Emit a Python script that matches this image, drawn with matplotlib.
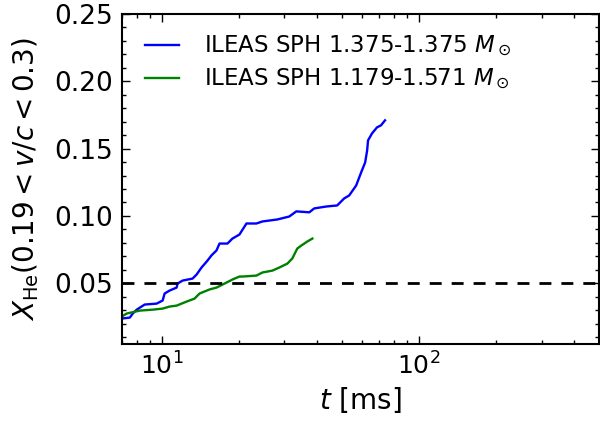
import numpy as np
import matplotlib
matplotlib.use("Agg")
import matplotlib.pyplot as plt
from matplotlib.ticker import MultipleLocator

# ILEAS SPH 1.375-1.375 Msun
t_sym = [7.00, 7.52, 7.72, 8.00, 8.59, 9.56, 10.09, 10.27, 10.74, 11.43, 11.53,
         12.06, 13.19, 13.67, 14.29, 15.08, 15.62, 16.34, 16.78, 18.02, 18.84,
         20.06, 21.36, 23.35, 24.63, 28.17, 31.34, 33.37, 37.48, 39.17, 43.60,
         48.10, 51.20, 53.54, 57.00, 59.6, 61.78, 62.9, 63.4, 65.7, 68.7, 71.2, 73.8]
x_sym = [0.0238, 0.0245, 0.0275, 0.0304, 0.0342, 0.0349, 0.0372, 0.0424, 0.0446,
         0.0468, 0.0498, 0.0520, 0.0535, 0.0565, 0.0617, 0.0669, 0.0707, 0.0744,
         0.0795, 0.0795, 0.0832, 0.0862, 0.0944, 0.0944, 0.0959, 0.0974, 0.0996,
         0.1034, 0.1027, 0.1056, 0.1070, 0.1078, 0.1130, 0.1152, 0.1226, 0.1323,
         0.1397, 0.1487, 0.1561, 0.1613, 0.1658, 0.1673, 0.1710]

# ILEAS SPH 1.179-1.571 Msun
t_asym = [7.00, 7.31, 8.22, 9.23, 10.09, 10.74, 11.43, 12.50, 13.42, 14.04, 15.35,
          16.34, 17.86, 18.84, 20.06, 20.61, 23.35, 24.63, 26.93, 28.67, 30.79,
          32.19, 33.66, 34.88, 36.81, 38.52]
x_asym = [0.0253, 0.0275, 0.0297, 0.0304, 0.0312, 0.0327, 0.0334, 0.0364, 0.0386,
          0.0424, 0.0454, 0.0468, 0.0505, 0.0528, 0.0550, 0.0550, 0.0557, 0.0580,
          0.0594, 0.0617, 0.0646, 0.0684, 0.0758, 0.0780, 0.0810, 0.0832]

threshold = 0.05

fig = plt.figure(figsize=(6, 4.24), dpi=100)
ax = fig.add_axes([0.203, 0.189, 0.795, 0.778])

ax.plot(t_sym, x_sym, color='b', lw=1.7, label=r'ILEAS SPH 1.375-1.375 $M_\odot$')
ax.plot(t_asym, x_asym, color='g', lw=1.7, label=r'ILEAS SPH 1.179-1.571 $M_\odot$')
ax.axhline(threshold, color='k', lw=2, dashes=(4.3, 3.6))

ax.set_xscale('log')
ax.set_xlim(7, 500)
ax.set_ylim(0.005, 0.25)
ax.yaxis.set_major_locator(MultipleLocator(0.05))
ax.yaxis.set_minor_locator(MultipleLocator(0.01))

ax.tick_params(which='both', direction='in', top=True, right=True)
ax.tick_params(axis='y', labelsize=19, pad=6)
ax.tick_params(axis='x', labelsize=18, pad=6)
ax.tick_params(which='major', length=6, width=1)
ax.tick_params(which='minor', length=3, width=1)
for sp in ax.spines.values():
    sp.set_linewidth(1.5)

ax.set_xlabel(r'$t$ [ms]', fontsize=20)
ax.set_ylabel(r'$X_{\rm He}(0.19 < v/c < 0.3)$', fontsize=20, labelpad=10)
ax.legend(loc='upper left', frameon=False, fontsize=16.5, handlelength=1.5,
          handletextpad=1.1, labelspacing=0.35, borderaxespad=0.6,
          bbox_to_anchor=(0.0, 1.01))

fig.savefig('out.png', dpi=100)
